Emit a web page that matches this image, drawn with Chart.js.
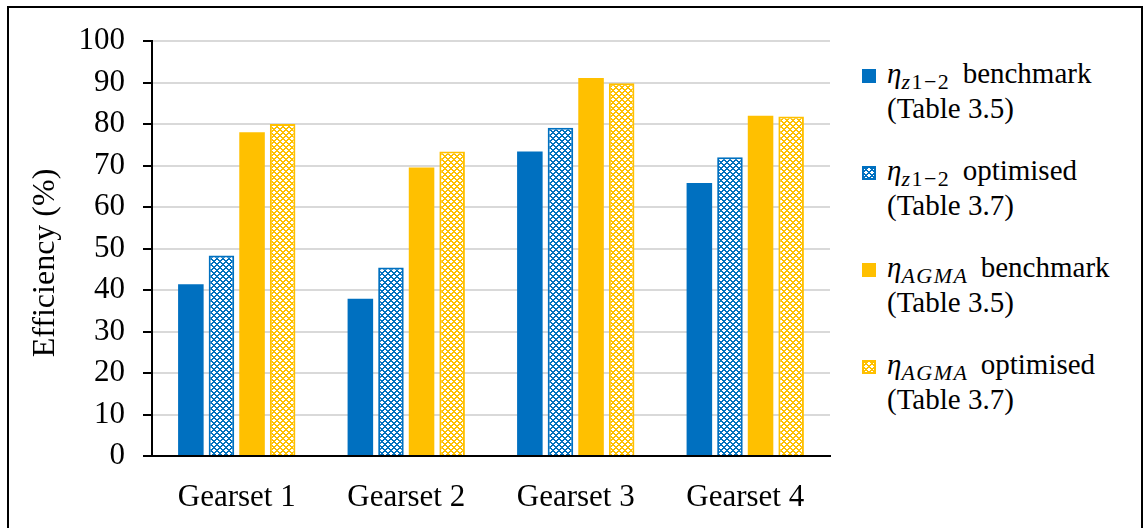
<!DOCTYPE html>
<html>
<head>
<meta charset="utf-8">
<script src="https://cdn.jsdelivr.net/npm/chart.js@4.4.1/dist/chart.umd.min.js"></script>
<style>
  html, body { margin: 0; padding: 0; background: #fff; }
  #wrap { position: relative; width: 1143px; height: 528px; overflow: hidden; }
  #frame { position: absolute; left: 7px; top: 6px; width: 1136px; height: 540px; border: 2px solid #000; box-sizing: border-box; }
  #box { position: absolute; left: 0; top: 0; width: 845px; height: 528px; }
  #legend { position: absolute; left: 862px; top: 56px; font-family: "Liberation Serif", serif; font-size: 29px; color: #000; }
  .item { position: relative; padding-left: 25px; line-height: 35px; margin-bottom: 27px; white-space: nowrap; }
  .item canvas { position: absolute; left: 0; top: 13px; }
  .eta { font-style: italic; }
  sub { font-size: 22px; line-height: 0; vertical-align: -6px; margin-right: 5px; letter-spacing: 1.5px; }
</style>
</head>
<body>
<div id="wrap">
  <div id="frame"></div>
  <div id="box"><canvas id="chart"></canvas></div>
  <div id="legend"></div>
</div>
<script>
const categories = ["Gearset 1", "Gearset 2", "Gearset 3", "Gearset 4"];
const etaZBenchmark = [41.4, 37.9, 73.4, 65.8];
const etaZOptimised = [48.3, 45.4, 79.1, 72.0];
const etaAgmaBenchmark = [78.0, 69.5, 91.1, 82.0];
const etaAgmaOptimised = [80.0, 73.4, 89.8, 81.8];
const yMin = 0, yMax = 100, yStep = 10;
const yTitle = "Efficiency (%)";

const blue = "#0070C0";
const gold = "#FFC000";
const serif = "'Liberation Serif', 'Times New Roman', serif";

// legend html: symbol, subscript, label, source table
const legendItems = [
  { sub: "<i>z</i>1−2", label: "benchmark", table: "(Table 3.5)", color: blue, hatched: false },
  { sub: "<i>z</i>1−2", label: "optimised", table: "(Table 3.7)", color: blue, hatched: true },
  { sub: "<i>AGMA</i>", label: "benchmark", table: "(Table 3.5)", color: gold, hatched: false },
  { sub: "<i>AGMA</i>", label: "optimised", table: "(Table 3.7)", color: gold, hatched: true }
];

const canvas = document.getElementById("chart");
const ctx = canvas.getContext("2d");

// small diagonal lattice tile, like the Excel dotted pattern fill
function makeTile(color) {
  const t = document.createElement("canvas");
  t.width = 6; t.height = 6;
  const g = t.getContext("2d");
  g.fillStyle = "#fff";
  g.fillRect(0, 0, 6, 6);
  g.fillStyle = color;
  for (let y = 0; y < 6; y++) {
    for (let x = 0; x < 6; x++) {
      if ((x + y) % 6 < 2 || (x - y + 6) % 6 < 2) g.fillRect(x, y, 1, 1);
    }
  }
  return t;
}
const bluePattern = ctx.createPattern(makeTile(blue), "repeat");
const goldPattern = ctx.createPattern(makeTile(gold), "repeat");

const barOpts = { barPercentage: 0.835, categoryPercentage: 0.722 };

// y title sits a little below the plot centre in the original, so draw it ourselves
const yTitlePlugin = {
  id: "yTitle",
  afterDraw(chart) {
    const c = chart.ctx;
    c.save();
    c.translate(46, 263);
    c.rotate(-Math.PI / 2);
    c.font = "32px " + serif;
    c.fillStyle = "#000";
    c.textAlign = "center";
    c.textBaseline = "middle";
    c.fillText(yTitle, 0, 0);
    c.restore();
  }
};

new Chart(canvas, {
  type: "bar",
  data: {
    labels: categories,
    datasets: [
      { label: "eta z1-2 benchmark", data: etaZBenchmark, backgroundColor: blue, borderWidth: 0, ...barOpts },
      { label: "eta z1-2 optimised", data: etaZOptimised, backgroundColor: bluePattern, borderColor: blue, borderWidth: 2, ...barOpts },
      { label: "eta AGMA benchmark", data: etaAgmaBenchmark, backgroundColor: gold, borderWidth: 0, ...barOpts },
      { label: "eta AGMA optimised", data: etaAgmaOptimised, backgroundColor: goldPattern, borderColor: gold, borderWidth: 2, ...barOpts }
    ]
  },
  options: {
    responsive: true,
    maintainAspectRatio: false,
    animation: false,
    layout: { padding: { top: 41, right: 15, bottom: 0, left: 0 } },
    plugins: { legend: { display: false }, tooltip: { enabled: false } },
    scales: {
      x: {
        grid: { display: false, drawTicks: false },
        border: { color: "#000", width: 2 },
        ticks: { color: "#000", padding: 23, font: { family: serif, size: 31 } },
        afterFit: (s) => { s.height = 72; }
      },
      y: {
        min: yMin,
        max: yMax,
        grid: { color: "#d9d9d9", lineWidth: 2, tickColor: "#000", tickLength: 9, tickWidth: 2 },
        border: { color: "#000", width: 2 },
        ticks: { stepSize: yStep, color: "#000", padding: 18, font: { family: serif, size: 31 } },
        afterFit: (s) => { s.width = 152; }
      }
    }
  },
  plugins: [yTitlePlugin]
});

// html legend with the math labels
const legend = document.getElementById("legend");
legendItems.forEach((it) => {
  const div = document.createElement("div");
  div.className = "item";
  const sw = document.createElement("canvas");
  sw.width = 14; sw.height = 14;
  const g = sw.getContext("2d");
  if (it.hatched) {
    g.fillStyle = g.createPattern(makeTile(it.color), "repeat");
    g.fillRect(0, 0, 14, 14);
    g.strokeStyle = it.color;
    g.lineWidth = 2;
    g.strokeRect(1, 1, 12, 12);
  } else {
    g.fillStyle = it.color;
    g.fillRect(0, 0, 14, 14);
  }
  div.appendChild(sw);
  const txt = document.createElement("span");
  txt.innerHTML = '<span class="eta">η</span><sub>' + it.sub + "</sub> " + it.label + "<br>" + it.table;
  div.appendChild(txt);
  legend.appendChild(div);
});
</script>
</body>
</html>
